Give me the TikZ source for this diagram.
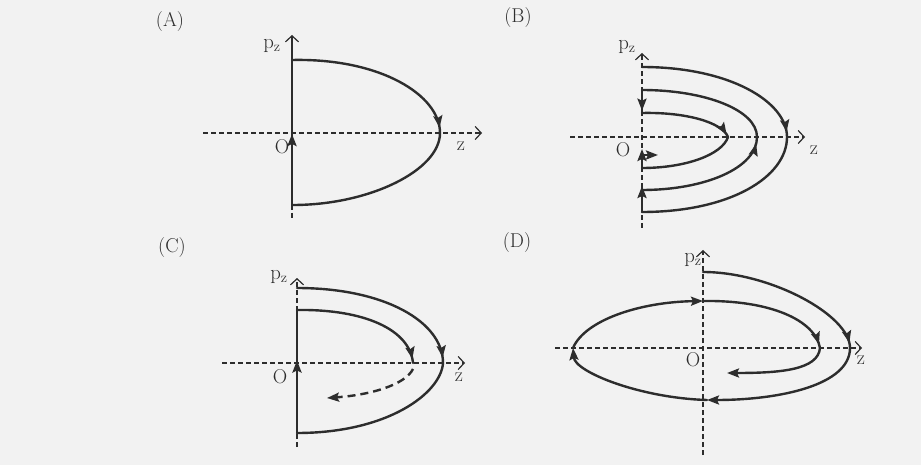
\documentclass[tikz,border=0pt]{standalone}
\usetikzlibrary{arrows.meta,decorations.markings}
\definecolor{ink}{RGB}{45,45,45}
\definecolor{paper}{RGB}{242,242,242}
\tikzset{
  traj/.style={line width=2.4pt, draw=ink, line cap=round},
  dtraj/.style={line width=2.4pt, draw=ink, dash pattern=on 8pt off 5pt},
  axisline/.style={line width=1.1pt, draw=ink, dash pattern=on 5pt off 3pt},
  axsolid/.style={line width=1.3pt, draw=ink},
  axtip/.style={-{Straight Barb[length=6pt,width=13pt,line width=1.2pt]}},
  htip/.style={-{Stealth[length=12pt,width=9pt,inset=2pt]}},
  arrowat/.style={postaction={decorate}, decoration={markings, mark=at position #1 with {\arrow{Stealth[length=12pt,width=9pt,inset=2pt]}}}},
  lbl/.style={text=ink, inner sep=0pt, font=\fontsize{20}{22}\selectfont},
}
\begin{document}
\begin{tikzpicture}[x=1pt,y=-1pt]
\fill[paper] (0,0) rectangle (921,465);
\useasboundingbox (0,0) rectangle (921,465);

% ---------------- Panel A ----------------
\node[lbl] (labA) at (170,22) {(A)};
\node[lbl] (pzA) at (272,46) {$\mathrm{p}_{\mathrm{z}}$};
\node[lbl] (oA) at (282,147) {O};
\node[lbl] (zA) at (461,146) {z};
\draw[axisline, axtip] (203,133) -- (482,133);
\draw[axisline] (292,205) -- (292,218);
\draw[axsolid, axtip] (292,60) -- (292,35);
\draw[traj, arrowat=0.49] (292,205) -- (292,60);
\draw[traj, arrowat=0.97] (292,60) .. controls (380,58) and (440,95) .. (440,133);
\draw[traj] (440,133) .. controls (440,170) and (370,205) .. (293,205);

% ---------------- Panel B ----------------
\node[lbl] (labB) at (518,18) {(B)};
\node[lbl] (pzB) at (627,47) {$\mathrm{p}_{\mathrm{z}}$};
\node[lbl] (oB) at (623,150) {O};
\node[lbl] (zB) at (814,150) {z};
\draw[axisline, axtip] (570,137) -- (805,137);
\draw[axisline, axtip] (642,228) -- (642,53);
% outer
\draw[traj, arrowat=0.97] (642,67) .. controls (730,67) and (787,102) .. (787,137);
\draw[traj] (787,137) .. controls (787,177) and (730,212) .. (642,212);
% middle
\draw[traj, arrowat=0.95] (642,190) .. controls (705,190) and (757,168) .. (757,137);
\draw[traj] (757,137) .. controls (757,110) and (705,90) .. (642,90);
% inner
\draw[traj, arrowat=0.97] (642,113) .. controls (685,112) and (722,122) .. (728,137);
\draw[traj] (728,137) .. controls (722,155) and (685,168) .. (642,168);
% vertical pieces
\draw[traj, arrowat=0.9] (642,90) -- (642,113);
\draw[traj, htip] (642,168) -- (642,149);
\draw[traj, htip] (643,155) -- (658,155);
\draw[traj, htip] (642,212) -- (642,186);

% ---------------- Panel C ----------------
\node[lbl] (labC) at (172,248) {(C)};
\node[lbl] (pzC) at (279,277) {$\mathrm{p}_{\mathrm{z}}$};
\node[lbl] (oC) at (280,377) {O};
\node[lbl] (zC) at (459,377) {z};
\draw[axisline, axtip] (222,363) -- (465,363);
\draw[axisline, axtip] (297,447) -- (297,278);
\draw[traj, arrowat=0.97] (297,288) .. controls (385,288) and (443,322) .. (443,363);
\draw[traj] (443,363) .. controls (441,393) and (388,433) .. (297,433);
\draw[traj, arrowat=0.59] (297,433) -- (297,310);
\draw[traj, arrowat=0.97] (297,310) .. controls (365,309) and (410,330) .. (413,363);
\draw[dtraj, htip] (413,369) .. controls (405,385) and (370,395) .. (327,398);

% ---------------- Panel D ----------------
\node[lbl] (labD) at (517,243) {(D)};
\node[lbl] (pzD) at (693,260) {$\mathrm{p}_{\mathrm{z}}$};
\node[lbl] (oD) at (693,360) {O};
\node[lbl] (zD) at (861,360) {z};
\draw[axisline, axtip] (555,348) -- (862,348);
\draw[axisline, axtip] (703,455) -- (703,250);
\draw[traj, arrowat=0.97] (703,272) .. controls (770,272) and (850,315) .. (850,348);
\draw[traj, htip] (850,348) .. controls (850,385) and (780,400) .. (707,400);
\draw[traj, htip] (707,400) .. controls (640,398) and (575,372) .. (573,348);
\draw[traj, htip] (573,348) .. controls (585,320) and (640,302) .. (703,301);
\draw[traj, arrowat=0.97] (703,301) .. controls (770,300) and (815,320) .. (820,348);
\draw[traj, htip] (820,348) .. controls (818,370) and (780,373) .. (727,373);
\end{tikzpicture}
\end{document}
